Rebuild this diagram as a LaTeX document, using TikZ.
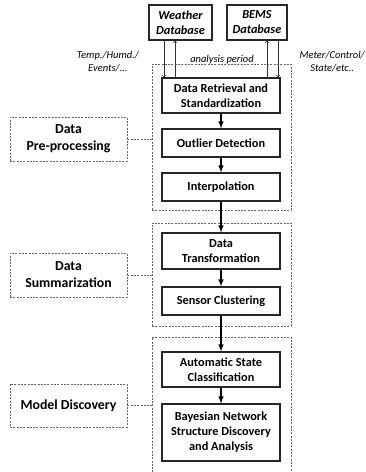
\documentclass[tikz,border=0pt]{standalone}
\usepackage{fontspec}
\setmainfont{Carlito}
\usetikzlibrary{shapes}
\usetikzlibrary{positioning}
\tikzset{
  stepbox/.style={draw=black!85, line width=1.1pt, minimum width=118pt,
    align=center, inner sep=1pt, font=\fontsize{12.3}{15}\selectfont\bfseries},
  dbbox/.style={draw=black!85, line width=1.1pt, align=center, inner sep=1pt,
    font=\fontsize{12.3}{15}\selectfont\bfseries\itshape},
  groupbox/.style={draw=black!60, dash pattern=on 2pt off 1.3pt, line width=0.7pt, minimum width=139pt},
  phasebox/.style={draw=black!60, dash pattern=on 2pt off 1.3pt, line width=0.7pt, minimum width=117pt,
    align=center, font=\fontsize{13.8}{17}\selectfont\bfseries},
  note/.style={align=center, inner sep=0pt, font=\fontsize{10.5}{13}\selectfont\itshape},
  flow/.style={->, >=latex, line width=1.4pt},
  query/.style={->, line width=0.7pt, black!80},
}

\begin{document}
\begin{tikzpicture}[x=1pt, y=-1pt]
    \useasboundingbox (0,0) rectangle (366,472);
    \clip (0,0) rectangle (366,472);

    % databases
    \node [dbbox, minimum width=63pt, minimum height=35pt] (weather) at (180.5,22.5) {Weather\\Database};
    \node [dbbox, minimum width=60pt, minimum height=35pt] (bems) at (257,22.5) {BEMS\\Database};

    % groups
    \node [groupbox, minimum height=146pt] (g1) at (221.5,137) {};
    \node [groupbox, minimum height=103pt] (g2) at (221.5,274.5) {};
    \node [groupbox, minimum height=143pt] (g3) at (221.5,408.5) {};

    % steps
    \node [stepbox, minimum height=35pt] (ret) at (221,95.5) {Data Retrieval and\\Standardization};
    \node [stepbox, minimum height=28pt] (out) at (221,143) {Outlier Detection};
    \node [stepbox, minimum height=28pt] (interp) at (221,187) {Interpolation};
    \node [stepbox, minimum height=36pt] (trans) at (221,251) {Data\\Transformation};
    \node [stepbox, minimum height=28pt] (clust) at (221,301) {Sensor Clustering};
    \node [stepbox, minimum height=35pt] (state) at (221,369.5) {Automatic State\\Classification};
    \node [stepbox, minimum height=57pt] (bayes) at (221,432.5) {Bayesian Network\\Structure Discovery\\and Analysis};

    % phases
    \node [phasebox, minimum height=44pt] (pre) at (68.5,139) {Data\\Pre-processing};
    \node [phasebox, minimum height=44pt] (summ) at (68.5,275) {Data\\Summarization};
    \node [phasebox, minimum height=43pt] (model) at (68.5,405.5) {Model Discovery};

    \draw [groupbox] (pre.east) -- (pre.east -| g1.west);
    \draw [groupbox] (summ.east) -- (summ.east -| g2.west);
    \draw [groupbox] (model.east) -- (model.east -| g3.west);

    % notes
    \node [note] (wnote) at (108,61.5) {Temp./Humd./\\Events/...};
    \node [note, anchor=east] (bnote) at (365,61.5) {Meter/Control/\\State/etc..};
    \node [note] (period) at (222,60) {analysis period};

    % database queries
    \draw [query] (weather.south -| 164,0) -- (ret.north -| 164,0);
    \draw [query] (ret.north -| 175,0) -- (weather.south -| 175,0);
    \draw [query] (ret.north -| 267,0) -- (bems.south -| 267,0);
    \draw [query] (bems.south -| 278,0) -- (ret.north -| 278,0);

    % main flow
    \draw [flow] (ret) -- (out);
    \draw [flow] (out) -- (interp);
    \draw [flow] (interp) -- (trans);
    \draw [flow] (trans) -- (clust);
    \draw [flow] (clust) -- (state);
    \draw [flow] (state) -- (bayes);
\end{tikzpicture}
\end{document}
